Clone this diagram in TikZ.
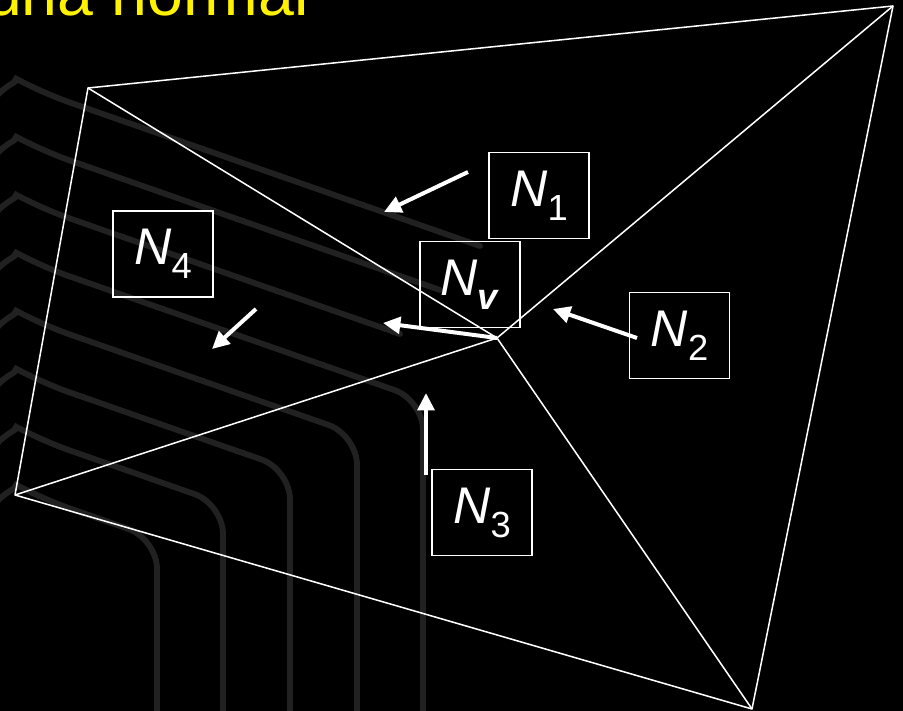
\documentclass[tikz,border=0pt]{standalone}
\usepackage{fontspec}
\setmainfont{Liberation Sans}
\usetikzlibrary{arrows.meta}

\newcommand{\normlbl}[1]{\textit{N}\raisebox{-0.27em}{\fontsize{31}{31}\selectfont #1}}

\tikzset{
  edge/.style={white, line width=1.3pt, line join=round},
  normbox/.style={draw=white, line width=1.3pt, minimum width=3cm, minimum height=2.58cm,
    inner sep=0pt, text=white, font=\fontsize{44}{44}\selectfont},
  normarrow/.style={white, line width=3.4pt, -{Triangle[length=0.52cm, width=0.5cm]}},
  stair/.style={black!87!white, line width=5pt, rounded corners=0.9cm, line cap=round}
}

\begin{document}
\begin{tikzpicture}[x=0.03cm, y=-0.03cm]
    % background and frame
    \fill[black] (0,0) rectangle (903,711);
    \useasboundingbox (0,0) rectangle (903,711);
    \clip (0,0) rectangle (903,711);

    % faint stairs behind the mesh
    \foreach \k/\len in {0/440, 1/400, 2/360} {
        \draw[stair] (-5,88+58*\k+10) .. controls (8,88+58*\k-6) and (22,88+58*\k-6) .. (40,88+58*\k+4)
            -- ++(\len,0.35*\len);
    }
    \foreach \k/\cx in {3/423, 4/357, 5/290, 6/223, 7/157} {
        \draw[stair] (-5,88+58*\k+10) .. controls (8,88+58*\k-6) and (22,88+58*\k-6) .. (40,88+58*\k+4)
            -- (\cx,88+58*\k+4+0.35*\cx-14) -- (\cx,740);
    }

    \node[anchor=base west, text=yellow, font=\fontsize{55}{55}\selectfont] (title) at (-18,16) {una normal};

    % mesh vertices
    \coordinate (tl) at (88,88);
    \coordinate (tr) at (893,6);
    \coordinate (br) at (752,709);
    \coordinate (bl) at (15,495);
    \coordinate (c) at (497,338);

    \draw[edge] (tl) -- (tr) -- (br) -- (bl) -- cycle;
    \draw[edge] (c) -- (tl);
    \draw[edge] (c) -- (tr);
    \draw[edge] (c) -- (br);
    \draw[edge] (c) -- (bl);

    % normals
    \node[normbox] (n1) at (539,195.5) {\normlbl{1}};
    \node[normbox] (nv) at (470,284.5) {\normlbl{\textbf{\textit{v}}}};
    \node[normbox] (n2) at (679.5,335.5) {\normlbl{2}};
    \node[normbox] (n3) at (482,512.5) {\normlbl{3}};
    \node[normbox] (n4) at (163,254) {\normlbl{4}};

    \coordinate (a1s) at (468,172);
    \coordinate (a1t) at (384,212);
    \coordinate (a2s) at (637,338);
    \coordinate (a2t) at (553,309);
    \coordinate (a3s) at (426,475);
    \coordinate (a3t) at (426,393);
    \coordinate (a4s) at (256,309);
    \coordinate (a4t) at (212,349);
    \coordinate (avt) at (383,323);

    \draw[normarrow] (a1s) -- (a1t);
    \draw[normarrow] (a2s) -- (a2t);
    \draw[normarrow] (a3s) -- (a3t);
    \draw[normarrow] (a4s) -- (a4t);
    \draw[normarrow] (c) -- (avt);
\end{tikzpicture}
\end{document}
